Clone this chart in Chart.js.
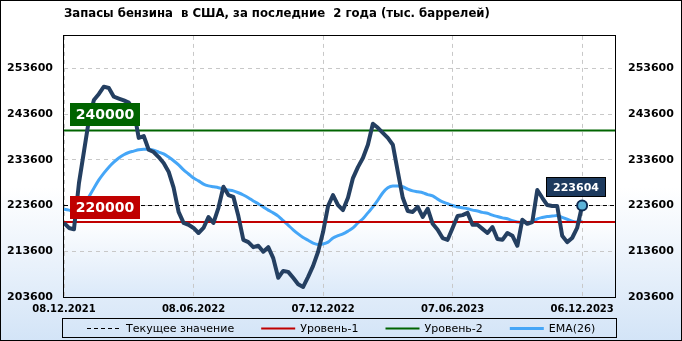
<!DOCTYPE html>
<html>
<head>
<meta charset="utf-8">
<script src="https://cdn.jsdelivr.net/npm/chart.js@4"></script>
<style>
  html, body { margin: 0; padding: 0; background: #fff; }
  canvas { display: block; }
</style>
</head>
<body>
<canvas id="chart" width="682" height="341"></canvas>
<script>
// weekly gasoline stocks, 08.12.2021 .. 06.12.2023 (thousand barrels)
const stocks = [
  219800, 218700, 218400, 228500, 235400, 242300, 246700, 248000, 249600, 249300,
  247400, 247000, 246600, 246100, 244500, 238400, 238800, 235800, 235300, 234200,
  232900, 231000, 227500, 222200, 219800, 219400, 218700, 217600, 218700, 221100,
  219800, 223100, 227700, 225900, 225500, 221300, 216100, 215600, 214500, 214800,
  213500, 214500, 212100, 207800, 209300, 209100, 207800, 206400, 205800, 208000,
  210400, 213500, 217800, 223500, 225900, 223700, 222600, 225300, 229600, 232000,
  234000, 236900, 241500, 240600, 239500, 238400, 236900, 231000, 225300, 222400,
  222200, 223300, 221100, 222900, 219600, 218300, 216500, 216100, 218700, 221300,
  221500, 222000, 219400, 219400, 218500, 217600, 218900, 216300, 216100, 217600,
  217000, 214800, 220500, 219600, 220000, 227000, 225300, 223700, 223500, 223500,
  217000, 215600, 216500, 218700, 223604
];
const ema26 = [
  222800, 222600, 222400, 222800, 223700, 225500, 227400, 229200, 230700, 232000,
  233100, 234000, 234700, 235200, 235500, 235800, 235900, 235900, 235700, 235300,
  234900, 234200, 233400, 232500, 231400, 230500, 229600, 229000, 228300, 227900,
  227700, 227500, 227200, 227000, 226800, 226400, 225900, 225300, 224600, 224000,
  223300, 222600, 222000, 221300, 220300, 219300, 218300, 217400, 216600, 216000,
  215400, 215100, 215200, 215600, 216500, 217000, 217400, 218000, 218700, 219800,
  220700, 222000, 223300, 224800, 226400, 227500, 227900, 227900, 227700, 227200,
  226800, 226600, 226400, 226000, 225700, 225000, 224400, 224000, 223600, 223300,
  223100, 222900, 222600, 222400, 222100, 221900, 221500, 221200, 220900, 220700,
  220300, 220000, 219900, 219900, 220100, 220700, 221000, 221200, 221300, 221400,
  221000, 220600, 220200, 220000, 220200
];
const dateLabels = ['08.12.2021', '08.06.2022', '07.12.2022', '07.06.2023', '06.12.2023'];
const dateWeeks = [0, 26, 52, 78, 104];
const yTicks = [203600, 213600, 223600, 233600, 243600, 253600];
const level1 = 220000;
const level2 = 240000;
const current = stocks[stocks.length - 1];

const xMax = 110.6;
const yMin = 203600, yMax = 260700;
const last = stocks.length - 1;

const toPoints = arr => arr.map((v, i) => ({ x: i, y: v }));
const flat = v => [{ x: 0, y: v }, { x: xMax, y: v }];

function tag(ctx, text, cx, bottom, w, h, bg, border, font) {
    const x = Math.round(cx - w / 2), y = Math.round(bottom - h);
    ctx.fillStyle = bg;
    ctx.fillRect(x, y, w, h);
    if (border) {
        ctx.strokeStyle = border;
        ctx.lineWidth = 1;
        ctx.strokeRect(x + 0.5, y + 0.5, w - 1, h - 1);
    }
    ctx.fillStyle = '#fff';
    ctx.font = font;
    ctx.textAlign = 'center';
    ctx.textBaseline = 'middle';
    ctx.fillText(text, x + w / 2, y + h / 2 + 1);
}

const decor = {
    id: 'decor',
    beforeDraw(chart) {
        const { ctx, width, height, chartArea: a } = chart;
        ctx.save();
        let g = ctx.createLinearGradient(0, 0, 0, height);
        g.addColorStop(0, '#ffffff');
        g.addColorStop(0.55, '#ffffff');
        g.addColorStop(1, '#d3e4f7');
        ctx.fillStyle = g;
        ctx.fillRect(0, 0, width, height);
        g = ctx.createLinearGradient(0, a.top, 0, a.bottom);
        g.addColorStop(0, '#ffffff');
        g.addColorStop(0.7, '#ffffff');
        g.addColorStop(1, '#dbe9f9');
        ctx.fillStyle = g;
        ctx.fillRect(a.left, a.top, a.right - a.left, a.bottom - a.top);
        ctx.restore();
    },
    afterDatasetsDraw(chart) {
        const { ctx, chartArea: a, scales } = chart;
        const ys = scales.y, xs = scales.x;
        ctx.save();
        ctx.strokeStyle = '#000';
        ctx.lineWidth = 1;
        ctx.strokeRect(Math.round(a.left) - 0.5, Math.round(a.top) - 0.5,
            Math.round(a.right - a.left) + 1, Math.round(a.bottom - a.top) + 1);

        const boxFont = 'bold 14px "DejaVu Sans"';
        tag(ctx, String(level2), a.left + 41, ys.getPixelForValue(level2) - 5, 70, 23, '#006400', null, boxFont);
        tag(ctx, String(level1), a.left + 41, ys.getPixelForValue(level1) - 3, 70, 23, '#c00000', null, boxFont);
        tag(ctx, String(current), xs.getPixelForValue(last) - 6, ys.getPixelForValue(current) - 9,
            60, 20, '#1d3a5e', '#000', 'bold 11px "DejaVu Sans"');

        // legend
        const items = chart.data.datasets.slice(1);
        ctx.font = '11px "DejaVu Sans"';
        const lineLen = 34, gapText = 5, gapItem = 27;
        let total = 0;
        items.forEach((d, i) => {
            total += lineLen + gapText + ctx.measureText(d.label).width + (i < items.length - 1 ? gapItem : 0);
        });
        let x = Math.round(chart.width / 2 - total / 2);
        const ly = 328;
        ctx.strokeStyle = '#000';
        ctx.lineWidth = 1;
        ctx.strokeRect(Math.round(a.left) - 1.5, 318.5, Math.round(a.right - a.left) + 3, 19);
        items.forEach(d => {
            ctx.save();
            ctx.strokeStyle = d.borderColor;
            ctx.lineWidth = d.borderWidth;
            ctx.setLineDash(d.borderDash || []);
            ctx.beginPath();
            ctx.moveTo(x, ly + 0.5);
            ctx.lineTo(x + lineLen, ly + 0.5);
            ctx.stroke();
            ctx.restore();
            x += lineLen + gapText;
            ctx.fillStyle = '#000';
            ctx.textAlign = 'left';
            ctx.textBaseline = 'middle';
            ctx.fillText(d.label, x, ly + 1);
            x += ctx.measureText(d.label).width + gapItem;
        });

        ctx.strokeRect(0.5, 0.5, chart.width - 1, chart.height - 1);
        ctx.restore();
    }
};

const tickFont = { family: 'DejaVu Sans', size: 11, weight: 'bold' };
const gridStyle = { color: '#c8c8c8', lineWidth: 1, drawTicks: false };

new Chart(document.getElementById('chart'), {
    type: 'line',
    data: {
        datasets: [
            {
                label: 'Запасы',
                data: toPoints(stocks),
                borderColor: '#243f61',
                borderWidth: 4,
                borderJoinStyle: 'round',
                pointRadius: ctx => ctx.dataIndex === last ? 5 : 0,
                pointBackgroundColor: '#5cb3d9',
                pointBorderColor: '#0d2b52',
                pointBorderWidth: 2,
                tension: 0
            },
            {
                label: 'Текущее значение',
                data: flat(current),
                borderColor: '#000',
                borderWidth: 1,
                borderDash: [4, 3],
                pointRadius: 0
            },
            {
                label: 'Уровень-1',
                data: flat(level1),
                borderColor: '#c00000',
                borderWidth: 2,
                pointRadius: 0
            },
            {
                label: 'Уровень-2',
                data: flat(level2),
                borderColor: '#006400',
                borderWidth: 2,
                pointRadius: 0
            },
            {
                label: 'EMA(26)',
                data: toPoints(ema26),
                borderColor: '#45a6f7',
                borderWidth: 3,
                pointRadius: 0,
                cubicInterpolationMode: 'monotone'
            }
        ]
    },
    options: {
        responsive: false,
        animation: false,
        events: [],
        devicePixelRatio: 1,
        layout: { padding: 0 },
        plugins: {
            legend: { display: false },
            tooltip: { enabled: false },
            title: {
                display: true,
                fullSize: false,
                align: 'start',
                text: 'Запасы бензина  в США, за последние  2 года (тыс. баррелей)',
                color: '#000',
                font: { family: '"DejaVu Sans Condensed", "Liberation Sans", sans-serif', size: 13, weight: 'bold', lineHeight: 1.3 },
                padding: { top: 5, bottom: 14 }
            }
        },
        scales: {
            x: {
                type: 'linear',
                min: 0,
                max: xMax,
                afterBuildTicks: s => { s.ticks = dateWeeks.map(v => ({ value: v })); },
                afterFit: s => { s.height = 44; },
                grid: gridStyle,
                border: { display: false, dash: [4, 4] },
                ticks: {
                    autoSkip: false,
                    maxRotation: 0,
                    padding: 6,
                    color: '#000',
                    font: { family: 'DejaVu Sans', size: 10, weight: 'bold' },
                    callback: (v, i) => dateLabels[i]
                }
            },
            y: {
                position: 'left',
                min: yMin,
                max: yMax,
                afterBuildTicks: s => { s.ticks = yTicks.map(v => ({ value: v })); },
                afterFit: s => { s.width = 64; },
                grid: gridStyle,
                border: { display: false, dash: [4, 4] },
                ticks: { padding: 11, color: '#000', font: tickFont, callback: v => String(v) }
            },
            y2: {
                position: 'right',
                min: yMin,
                max: yMax,
                afterBuildTicks: s => { s.ticks = yTicks.map(v => ({ value: v })); },
                afterFit: s => { s.width = 67; },
                grid: { drawOnChartArea: false, drawTicks: false },
                border: { display: false },
                ticks: { padding: 13, color: '#000', font: tickFont, callback: v => String(v) }
            }
        }
    },
    plugins: [decor]
});
</script>
</body>
</html>
